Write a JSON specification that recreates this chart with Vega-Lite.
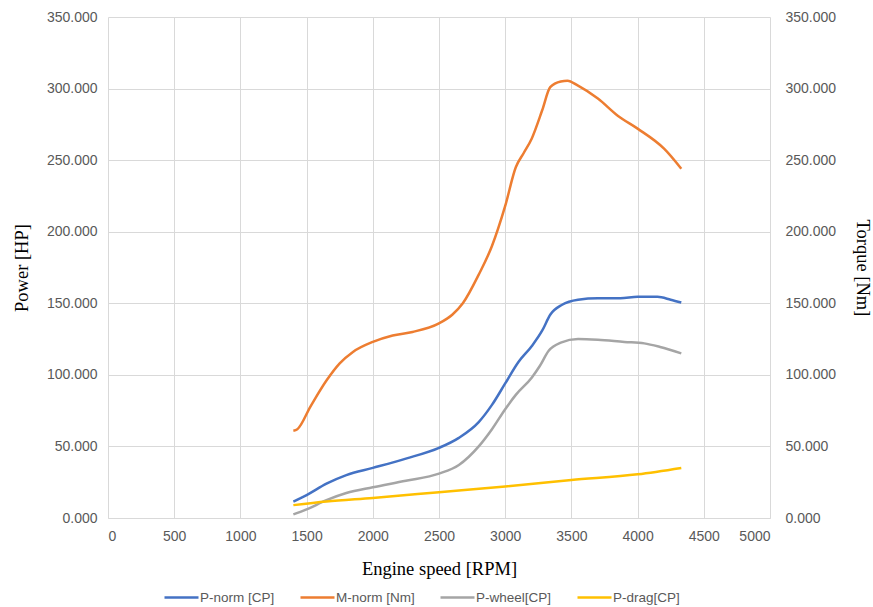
{
  "$schema": "https://vega.github.io/schema/vega-lite/v6.json",
  "width": 662,
  "height": 501,
  "autosize": "none",
  "padding": {"left": 108, "top": 17, "right": 103, "bottom": 89},
  "background": "white",
  "config": {
    "view": {"stroke": null},
    "axis": {
      "labelFont": "Liberation Sans",
      "labelFontSize": 14,
      "labelColor": "#595959",
      "titleFont": "Liberation Serif",
      "titleFontSize": 18.5,
      "titleFontWeight": "normal",
      "titleColor": "#000000",
      "gridColor": "#d9d9d9",
      "gridWidth": 1,
      "ticks": false,
      "domain": false
    },
    "legend": {
      "labelFont": "Liberation Sans",
      "labelFontSize": 13.5,
      "labelColor": "#595959"
    }
  },
  "data": {
    "values": [
      {"rpm": 1400, "value": 11.5, "series": "P-norm [CP]"},
      {"rpm": 1500, "value": 16, "series": "P-norm [CP]"},
      {"rpm": 1650, "value": 24, "series": "P-norm [CP]"},
      {"rpm": 1800, "value": 30, "series": "P-norm [CP]"},
      {"rpm": 2000, "value": 35, "series": "P-norm [CP]"},
      {"rpm": 2250, "value": 41.5, "series": "P-norm [CP]"},
      {"rpm": 2500, "value": 49, "series": "P-norm [CP]"},
      {"rpm": 2650, "value": 56, "series": "P-norm [CP]"},
      {"rpm": 2800, "value": 67, "series": "P-norm [CP]"},
      {"rpm": 2900, "value": 79, "series": "P-norm [CP]"},
      {"rpm": 3000, "value": 94, "series": "P-norm [CP]"},
      {"rpm": 3100, "value": 109, "series": "P-norm [CP]"},
      {"rpm": 3200, "value": 120, "series": "P-norm [CP]"},
      {"rpm": 3280, "value": 131, "series": "P-norm [CP]"},
      {"rpm": 3340, "value": 142, "series": "P-norm [CP]"},
      {"rpm": 3430, "value": 149, "series": "P-norm [CP]"},
      {"rpm": 3550, "value": 152.5, "series": "P-norm [CP]"},
      {"rpm": 3700, "value": 153.5, "series": "P-norm [CP]"},
      {"rpm": 3870, "value": 153.5, "series": "P-norm [CP]"},
      {"rpm": 4000, "value": 154.5, "series": "P-norm [CP]"},
      {"rpm": 4150, "value": 154.5, "series": "P-norm [CP]"},
      {"rpm": 4250, "value": 152.5, "series": "P-norm [CP]"},
      {"rpm": 4330, "value": 150.5, "series": "P-norm [CP]"},

      {"rpm": 1400, "value": 61, "series": "M-norm [Nm]"},
      {"rpm": 1430, "value": 62, "series": "M-norm [Nm]"},
      {"rpm": 1530, "value": 78, "series": "M-norm [Nm]"},
      {"rpm": 1650, "value": 96, "series": "M-norm [Nm]"},
      {"rpm": 1750, "value": 108, "series": "M-norm [Nm]"},
      {"rpm": 1850, "value": 116, "series": "M-norm [Nm]"},
      {"rpm": 2000, "value": 123, "series": "M-norm [Nm]"},
      {"rpm": 2150, "value": 127.5, "series": "M-norm [Nm]"},
      {"rpm": 2300, "value": 130, "series": "M-norm [Nm]"},
      {"rpm": 2500, "value": 136, "series": "M-norm [Nm]"},
      {"rpm": 2600, "value": 142, "series": "M-norm [Nm]"},
      {"rpm": 2680, "value": 150, "series": "M-norm [Nm]"},
      {"rpm": 2800, "value": 170, "series": "M-norm [Nm]"},
      {"rpm": 2900, "value": 190, "series": "M-norm [Nm]"},
      {"rpm": 3000, "value": 218, "series": "M-norm [Nm]"},
      {"rpm": 3080, "value": 245, "series": "M-norm [Nm]"},
      {"rpm": 3140, "value": 255, "series": "M-norm [Nm]"},
      {"rpm": 3200, "value": 265, "series": "M-norm [Nm]"},
      {"rpm": 3280, "value": 285, "series": "M-norm [Nm]"},
      {"rpm": 3340, "value": 301, "series": "M-norm [Nm]"},
      {"rpm": 3420, "value": 305, "series": "M-norm [Nm]"},
      {"rpm": 3470, "value": 305.5, "series": "M-norm [Nm]"},
      {"rpm": 3550, "value": 302, "series": "M-norm [Nm]"},
      {"rpm": 3700, "value": 293, "series": "M-norm [Nm]"},
      {"rpm": 3850, "value": 281, "series": "M-norm [Nm]"},
      {"rpm": 4000, "value": 272, "series": "M-norm [Nm]"},
      {"rpm": 4200, "value": 258, "series": "M-norm [Nm]"},
      {"rpm": 4330, "value": 244, "series": "M-norm [Nm]"},

      {"rpm": 1400, "value": 2.5, "series": "P-wheel[CP]"},
      {"rpm": 1500, "value": 6, "series": "P-wheel[CP]"},
      {"rpm": 1650, "value": 12.5, "series": "P-wheel[CP]"},
      {"rpm": 1800, "value": 17.5, "series": "P-wheel[CP]"},
      {"rpm": 2000, "value": 21.5, "series": "P-wheel[CP]"},
      {"rpm": 2250, "value": 26, "series": "P-wheel[CP]"},
      {"rpm": 2500, "value": 31, "series": "P-wheel[CP]"},
      {"rpm": 2650, "value": 37, "series": "P-wheel[CP]"},
      {"rpm": 2800, "value": 50, "series": "P-wheel[CP]"},
      {"rpm": 2900, "value": 62, "series": "P-wheel[CP]"},
      {"rpm": 3000, "value": 76, "series": "P-wheel[CP]"},
      {"rpm": 3080, "value": 86, "series": "P-wheel[CP]"},
      {"rpm": 3200, "value": 98, "series": "P-wheel[CP]"},
      {"rpm": 3260, "value": 106, "series": "P-wheel[CP]"},
      {"rpm": 3330, "value": 117, "series": "P-wheel[CP]"},
      {"rpm": 3420, "value": 122.5, "series": "P-wheel[CP]"},
      {"rpm": 3550, "value": 125, "series": "P-wheel[CP]"},
      {"rpm": 3700, "value": 124.5, "series": "P-wheel[CP]"},
      {"rpm": 3900, "value": 123, "series": "P-wheel[CP]"},
      {"rpm": 4050, "value": 122, "series": "P-wheel[CP]"},
      {"rpm": 4170, "value": 119.5, "series": "P-wheel[CP]"},
      {"rpm": 4330, "value": 115, "series": "P-wheel[CP]"},

      {"rpm": 1400, "value": 9, "series": "P-drag[CP]"},
      {"rpm": 1650, "value": 11.5, "series": "P-drag[CP]"},
      {"rpm": 2000, "value": 14, "series": "P-drag[CP]"},
      {"rpm": 2500, "value": 18, "series": "P-drag[CP]"},
      {"rpm": 3000, "value": 22, "series": "P-drag[CP]"},
      {"rpm": 3500, "value": 26.5, "series": "P-drag[CP]"},
      {"rpm": 4000, "value": 30.5, "series": "P-drag[CP]"},
      {"rpm": 4330, "value": 35, "series": "P-drag[CP]"}
    ]
  },
  "encoding": {
    "x": {
      "field": "rpm",
      "type": "quantitative",
      "scale": {"domain": [0, 5000], "nice": false},
      "axis": {
        "title": "Engine speed [RPM]",
        "values": [0, 500, 1000, 1500, 2000, 2500, 3000, 3500, 4000, 4500, 5000],
        "format": "d",
        "labelPadding": 11,
        "titlePadding": 16,
        "domain": true,
        "domainColor": "#d9d9d9"
      }
    },
    "color": {
      "field": "series",
      "type": "nominal",
      "scale": {
        "domain": ["P-norm [CP]", "M-norm [Nm]", "P-wheel[CP]", "P-drag[CP]"],
        "range": ["#4472C4", "#ED7D31", "#A5A5A5", "#FFC000"]
      },
      "legend": {
        "title": null,
        "orient": "none",
        "direction": "horizontal",
        "legendX": 55,
        "legendY": 562,
        "symbolType": "stroke",
        "symbolSize": 1156,
        "symbolStrokeWidth": 2.5,
        "columnPadding": 20,
        "labelOffset": 0
      }
    }
  },
  "layer": [
    {
      "transform": [{"filter": "datum.series !== 'M-norm [Nm]'"}],
      "mark": {"type": "line", "interpolate": "monotone", "strokeWidth": 2.5},
      "encoding": {
        "y": {
          "field": "value",
          "type": "quantitative",
          "scale": {"domain": [0, 350], "nice": false},
          "axis": {
            "title": "Power [HP]",
            "orient": "left",
            "values": [0, 50, 100, 150, 200, 250, 300, 350],
            "format": ".3f",
            "labelPadding": 11,
            "titlePadding": 15
          }
        }
      }
    },
    {
      "transform": [{"filter": "datum.series === 'M-norm [Nm]'"}],
      "mark": {"type": "line", "interpolate": "monotone", "strokeWidth": 2.5},
      "encoding": {
        "y": {
          "field": "value",
          "type": "quantitative",
          "scale": {"domain": [0, 350], "nice": false},
          "axis": {
            "title": "Torque [Nm]",
            "orient": "right",
            "values": [0, 50, 100, 150, 200, 250, 300, 350],
            "format": ".3f",
            "grid": false,
            "labelPadding": 15,
            "titlePadding": 17,
            "titleAngle": 90
          }
        }
      }
    }
  ],
  "resolve": {"scale": {"y": "independent"}}
}
